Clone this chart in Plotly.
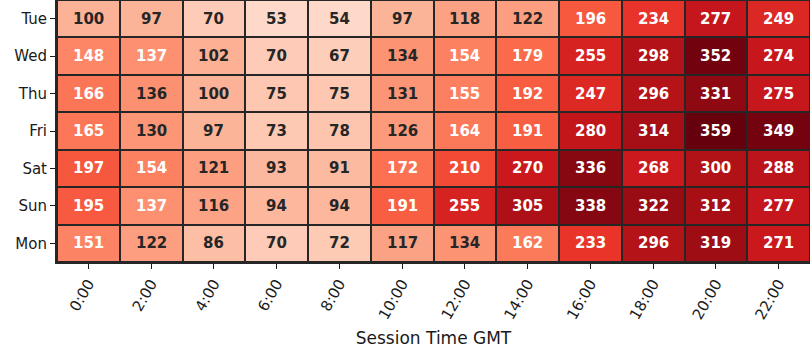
import plotly.graph_objects as go

hours = ["0:00", "2:00", "4:00", "6:00", "8:00", "10:00", "12:00", "14:00",
         "16:00", "18:00", "20:00", "22:00"]
days = ["Tue", "Wed", "Thu", "Fri", "Sat", "Sun", "Mon"]

tue = [100, 97, 70, 53, 54, 97, 118, 122, 196, 234, 277, 249]
wed = [148, 137, 102, 70, 67, 134, 154, 179, 255, 298, 352, 274]
thu = [166, 136, 100, 75, 75, 131, 155, 192, 247, 296, 331, 275]
fri = [165, 130, 97, 73, 78, 126, 164, 191, 280, 314, 359, 349]
sat = [197, 154, 121, 93, 91, 172, 210, 270, 336, 268, 300, 288]
sun = [195, 137, 116, 94, 94, 191, 255, 305, 338, 322, 312, 277]
mon = [151, 122, 86, 70, 72, 117, 134, 162, 233, 296, 319, 271]

z = [tue, wed, thu, fri, sat, sun, mon]

reds = ["#fff5f0", "#fee0d2", "#fcbba1", "#fc9272", "#fb6a4a",
        "#ef3b2c", "#cb181d", "#a50f15", "#67000d"]
colorscale = [[i / (len(reds) - 1), c] for i, c in enumerate(reds)]

DARK = "#262626"
LIGHT_TEXT_LIMIT = 137

fig = go.Figure()
fig.add_trace(go.Heatmap(
    z=z, x=hours, y=days,
    colorscale=colorscale, zmin=0, zmax=359,
    showscale=False, xgap=2, ygap=2, hoverinfo="skip",
))

annotations = []
for r, day in enumerate(days):
    for c, h in enumerate(hours):
        v = z[r][c]
        annotations.append(dict(
            x=h, y=day, text=f"<b>{v}</b>", showarrow=False,
            font=dict(family="DejaVu Sans", size=15,
                      color="white" if v >= LIGHT_TEXT_LIMIT else DARK),
        ))

fig.update_layout(
    width=810, height=360,
    margin=dict(l=57, r=0, t=0, b=98),
    paper_bgcolor="white", plot_bgcolor=DARK,
    font=dict(family="DejaVu Sans", size=15, color="#1a1a1a"),
    annotations=annotations,
    xaxis=dict(
        automargin=False,
        tickangle=-60, ticks="outside", ticklen=5, tickcolor="#1a1a1a",
        tickfont=dict(size=15), showgrid=False, zeroline=False,
        showline=True, linecolor=DARK, linewidth=2, mirror=True,
        title=dict(text="Session Time GMT", font=dict(size=17), standoff=10),
    ),
    yaxis=dict(
        automargin=False,
        autorange="reversed", ticks="outside", ticklen=5, tickcolor="#1a1a1a",
        tickfont=dict(size=15), showgrid=False, zeroline=False,
        showline=True, linecolor=DARK, linewidth=2, mirror=True,
    ),
)

fig.write_html(
    "out.html",
    config={"displayModeBar": False},
    post_script="document.body.style.margin='0';document.body.style.padding='0';",
)
